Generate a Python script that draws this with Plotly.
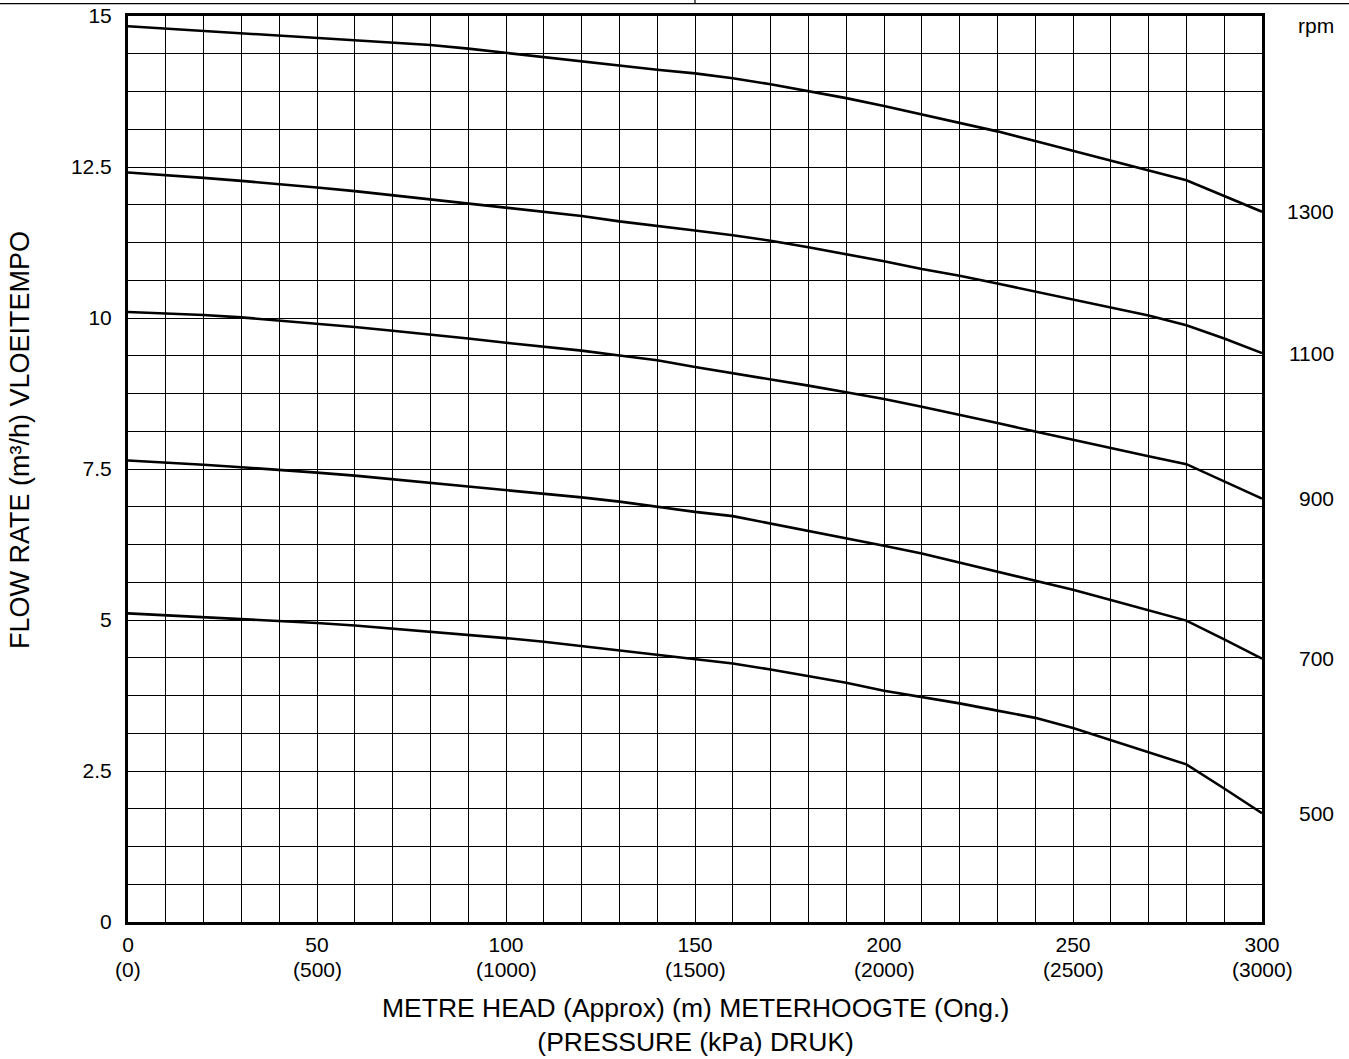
import plotly.graph_objects as go

head_m = [0, 10, 20, 30, 40, 50, 60, 70, 80, 90, 100, 110, 120, 130, 140, 150,
          160, 170, 180, 190, 200, 210, 220, 230, 240, 250, 260, 270, 280, 290, 300]

flow_1300 = [14.83, 14.79, 14.75, 14.71, 14.67, 14.63, 14.59, 14.56, 14.52, 14.46, 14.39,
             14.32, 14.24, 14.18, 14.11, 14.05, 13.97, 13.87, 13.76, 13.64, 13.51, 13.37,
             13.23, 13.09, 12.93, 12.77, 12.61, 12.45, 12.28, 12.02, 11.76]
flow_1100 = [12.41, 12.37, 12.32, 12.27, 12.22, 12.16, 12.10, 12.03, 11.97, 11.90, 11.83,
             11.76, 11.69, 11.60, 11.53, 11.45, 11.37, 11.28, 11.17, 11.06, 10.94, 10.81,
             10.70, 10.57, 10.44, 10.31, 10.18, 10.04, 9.88, 9.66, 9.42]
flow_900 = [10.10, 10.08, 10.05, 10.01, 9.96, 9.91, 9.85, 9.79, 9.73, 9.66, 9.59,
            9.53, 9.46, 9.38, 9.30, 9.19, 9.09, 8.99, 8.88, 8.77, 8.66, 8.53,
            8.40, 8.26, 8.12, 7.98, 7.85, 7.71, 7.58, 7.30, 7.01]
flow_700 = [7.64, 7.61, 7.57, 7.53, 7.49, 7.44, 7.39, 7.33, 7.28, 7.22, 7.16,
            7.10, 7.03, 6.96, 6.87, 6.79, 6.72, 6.60, 6.48, 6.36, 6.23, 6.10,
            5.95, 5.81, 5.65, 5.50, 5.33, 5.16, 4.99, 4.68, 4.36]
flow_500 = [5.11, 5.08, 5.05, 5.02, 4.99, 4.95, 4.91, 4.86, 4.81, 4.75, 4.70,
            4.64, 4.57, 4.50, 4.42, 4.35, 4.28, 4.18, 4.07, 3.96, 3.83, 3.73,
            3.62, 3.50, 3.38, 3.21, 3.01, 2.82, 2.61, 2.21, 1.80]

rpm_labels = ["1300", "1100", "900", "700", "500"]
series = [flow_1300, flow_1100, flow_900, flow_700, flow_500]

x_tick_vals = [0, 50, 100, 150, 200, 250, 300]
x_tick_text = ["0", "50", "100", "150", "200", "250", "300"]
kpa_text = ["(0)", "(500)", "(1000)", "(1500)", "(2000)", "(2500)", "(3000)"]
y_tick_vals = [0, 2.5, 5, 7.5, 10, 12.5, 15]
y_tick_text = ["0", "2.5", "5", "7.5", "10", "12.5", "15"]

FONT = "Liberation Sans, Arial, Helvetica, sans-serif"

fig = go.Figure()
for name, ys in zip(rpm_labels, series):
    fig.add_trace(go.Scatter(x=head_m, y=ys, mode="lines", name=name,
                             line=dict(color="black", width=2.6), showlegend=False,
                             hoverinfo="skip"))

annotations = []
for name, ys in zip(rpm_labels, series):
    annotations.append(dict(x=1, xref="paper", y=ys[-1], yref="y", text=name,
                            showarrow=False, xanchor="right", yanchor="middle",
                            xshift=74, font=dict(size=21, color="black", family=FONT)))
annotations.append(dict(x=1, xref="paper", y=1, yref="paper", text="rpm",
                        showarrow=False, xanchor="right", yanchor="middle",
                        xshift=74, yshift=-9, font=dict(size=21, color="black", family=FONT)))
for xv, t in zip(x_tick_vals, kpa_text):
    annotations.append(dict(x=xv, xref="x", y=0, yref="paper", text=t, showarrow=False,
                            xanchor="center", yanchor="middle", yshift=-47,
                            font=dict(size=21, color="black", family=FONT)))
annotations.append(dict(x=0.5, xref="paper", y=0, yref="paper",
                        text="METRE HEAD (Approx) (m) METERHOOGTE (Ong.)<br>(PRESSURE (kPa) DRUK)",
                        showarrow=False, xanchor="center", yanchor="middle", yshift=-103,
                        font=dict(size=26.5, color="black", family=FONT)))
annotations.append(dict(x=0, xref="paper", y=0.532, yref="paper",
                        text="FLOW RATE (m³/h) VLOEITEMPO", textangle=-90,
                        showarrow=False, xanchor="center", yanchor="middle", xshift=-108,
                        font=dict(size=27, color="black", family=FONT)))

fig.update_layout(
    width=1349, height=1059,
    margin=dict(l=128, r=87, t=16, b=137),
    paper_bgcolor="white", plot_bgcolor="white",
    font=dict(family=FONT, size=21, color="black"),
    annotations=annotations,
    shapes=[
        dict(type="line", xref="paper", yref="paper", x0=-0.2, x1=1.2, y0=1.0137, y1=1.0137,
             line=dict(color="black", width=1.2)),
        dict(type="line", xref="paper", yref="paper", x0=0.5, x1=0.5, y0=1.0137, y1=1.02,
             line=dict(color="black", width=1.2)),
    ],
)
fig.update_xaxes(range=[0, 300], tickvals=x_tick_vals, ticktext=x_tick_text,
                 showgrid=True, gridcolor="black", gridwidth=1,
                 minor=dict(dtick=10, showgrid=True, gridcolor="black", gridwidth=1),
                 showline=True, linecolor="black", linewidth=3, mirror=True,
                 ticks="", zeroline=False, ticklabelstandoff=2, automargin=False,
                 tickfont=dict(size=21, color="black", family=FONT))
fig.update_yaxes(range=[0, 15], tickvals=y_tick_vals, ticktext=y_tick_text,
                 showgrid=True, gridcolor="black", gridwidth=1,
                 minor=dict(dtick=0.625, showgrid=True, gridcolor="black", gridwidth=1),
                 showline=True, linecolor="black", linewidth=3, mirror=True,
                 ticks="", zeroline=False, ticklabelstandoff=9, automargin=False,
                 tickfont=dict(size=21, color="black", family=FONT))

fig.write_html("out.html", config={"displayModeBar": False},
               post_script="document.body.style.margin='0';document.body.style.overflow='hidden';")
